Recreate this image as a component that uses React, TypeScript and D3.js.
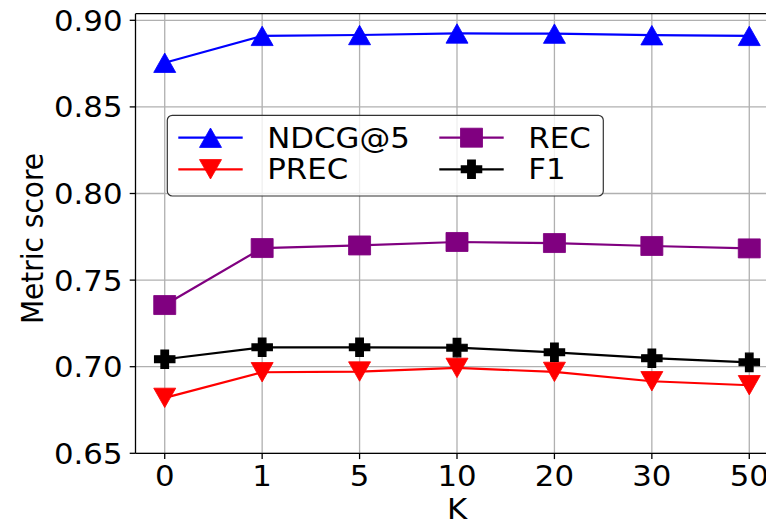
import React from "react";
import * as d3 from "d3";

const categories = ["0", "1", "5", "10", "20", "30", "50"];
const ndcg = [0.8755, 0.891, 0.8915, 0.8924, 0.8923, 0.8914, 0.891];
const prec = [0.682, 0.6968, 0.6972, 0.6993, 0.697, 0.6916, 0.6893];
const rec = [0.7356, 0.7685, 0.770, 0.772, 0.7714, 0.7697, 0.7683];
const f1 = [0.7043, 0.7112, 0.7112, 0.711, 0.7083, 0.7049, 0.7025];
const yTicks = [0.65, 0.70, 0.75, 0.80, 0.85, 0.90];

const series = [
  { name: "NDCG@5", values: ndcg, color: "#0000ff", marker: "up" },
  { name: "PREC", values: prec, color: "#ff0000", marker: "down" },
  { name: "REC", values: rec, color: "#800080", marker: "square" },
  { name: "F1", values: f1, color: "#000000", marker: "plus" },
];

const SX = 1.1;
const FONT = "'DejaVu Sans', sans-serif";

function markerPath(kind: string): string {
  if (kind === "up") return "M0,-9.7L-10,9.7L10,9.7Z";
  if (kind === "down") return "M0,9.7L-10,-9.7L10,-9.7Z";
  if (kind === "square") return "M-10,-9.5H10V9.5H-10Z";
  const a = 9.2, t = 3.4;
  return `M${-t},${-a}H${t}V${-t}H${a}V${t}H${t}V${a}H${-t}V${t}H${-a}V${-t}H${-t}Z`;
}

function Marker({ kind, color, x, y }: { kind: string; color: string; x: number; y: number }) {
  return (
    <path
      d={markerPath(kind)}
      transform={`translate(${x},${y}) scale(${SX},1)`}
      fill={color}
      stroke={color}
      strokeWidth={kind === "plus" ? 1.2 : 0.8}
    />
  );
}

export default function App() {
  const W = 766, H = 519;
  const left = 135.5, right = 778.5, top = 13.7, bottom = 453.3;
  const x = d3.scaleLinear().domain([-0.3, categories.length - 1 + 0.3]).range([left, right]);
  const y = d3.scaleLinear().domain([0.65, 0.65 + (bottom - top) / 1732]).range([bottom, top]);
  const line = d3
    .line<number>()
    .x((_, i) => x(i))
    .y((d) => y(d));

  const legendCols = [
    { x: 167.3, items: [series[0], series[1]] },
    { x: 167.3 + 261, items: [series[2], series[3]] },
  ];
  const rowY = [137.7, 169.3];

  return (
    <svg
      width={W}
      height={H}
      style={{ position: "absolute", left: 0, top: 0, background: "#fff" }}
      fontFamily={FONT}
    >
      <rect x={0} y={0} width={W} height={H} fill="#fff" />
      {/* grid */}
      {categories.map((_, i) => (
        <line key={"gx" + i} x1={x(i)} x2={x(i)} y1={top} y2={bottom} stroke="#b0b0b0" strokeWidth={1.3} />
      ))}
      {yTicks.map((t) => (
        <line key={"gy" + t} x1={left} x2={right} y1={y(t)} y2={y(t)} stroke="#b0b0b0" strokeWidth={1.3} />
      ))}
      {/* series */}
      {series.map((s) => (
        <g key={s.name}>
          <path d={line(s.values) || ""} fill="none" stroke={s.color} strokeWidth={2.2} />
          {s.values.map((v, i) => (
            <Marker key={i} kind={s.marker} color={s.color} x={x(i)} y={y(v)} />
          ))}
        </g>
      ))}
      {/* spines */}
      <line x1={left} x2={left} y1={top} y2={bottom} stroke="#000" strokeWidth={1.3} />
      <line x1={left} x2={right} y1={top} y2={top} stroke="#000" strokeWidth={1.3} />
      <line x1={left} x2={right} y1={bottom} y2={bottom} stroke="#000" strokeWidth={1.3} />
      <line x1={right} x2={right} y1={top} y2={bottom} stroke="#000" strokeWidth={1.3} />
      {/* y ticks */}
      {yTicks.map((t) => (
        <g key={"yt" + t}>
          <line x1={left - 5.8} x2={left} y1={y(t)} y2={y(t)} stroke="#000" strokeWidth={1.3} />
          <text
            transform={`translate(${left - 13},${y(t) + 10.5}) scale(${SX},1)`}
            textAnchor="end"
            fontSize={28}
            fill="#000"
          >
            {t.toFixed(2)}
          </text>
        </g>
      ))}
      {/* x ticks */}
      {categories.map((c, i) => (
        <g key={"xt" + c}>
          <line x1={x(i)} x2={x(i)} y1={bottom} y2={bottom + 5.8} stroke="#000" strokeWidth={1.3} />
          <text
            transform={`translate(${x(i)},${486.3}) scale(${SX},1)`}
            textAnchor="middle"
            fontSize={28}
            fill="#000"
          >
            {c}
          </text>
        </g>
      ))}
      {/* axis labels */}
      <text
        transform={`translate(${(left + right) / 2},518.5) scale(${SX},1)`}
        textAnchor="middle"
        fontSize={28}
        fill="#000"
      >
        K
      </text>
      <text
        transform={`translate(42.5,238.5) scale(${SX},1) rotate(-90)`}
        textAnchor="middle"
        fontSize={28}
        fill="#000"
      >
        Metric score
      </text>
      {/* legend */}
      <rect
        x={167.3}
        y={115.3}
        width={436}
        height={80.7}
        rx={5}
        fill="#fff"
        fillOpacity={0.8}
        stroke="#333"
        strokeWidth={1.2}
      />
      {legendCols.map((col, ci) =>
        col.items.map((s, ri) => {
          const hx0 = ci === 0 ? 178.3 : 439.3;
          const hx1 = hx0 + 64.4;
          const cy = rowY[ri];
          const tx = ci === 0 ? 267.3 : 528.3;
          return (
            <g key={s.name}>
              <line x1={hx0} x2={hx1} y1={cy} y2={cy} stroke={s.color} strokeWidth={2.2} />
              <Marker kind={s.marker} color={s.color} x={(hx0 + hx1) / 2} y={cy} />
              <text
                transform={`translate(${tx},${cy + 10}) scale(${SX},1)`}
                fontSize={28}
                fill="#000"
              >
                {s.name}
              </text>
            </g>
          );
        })
      )}
    </svg>
  );
}
